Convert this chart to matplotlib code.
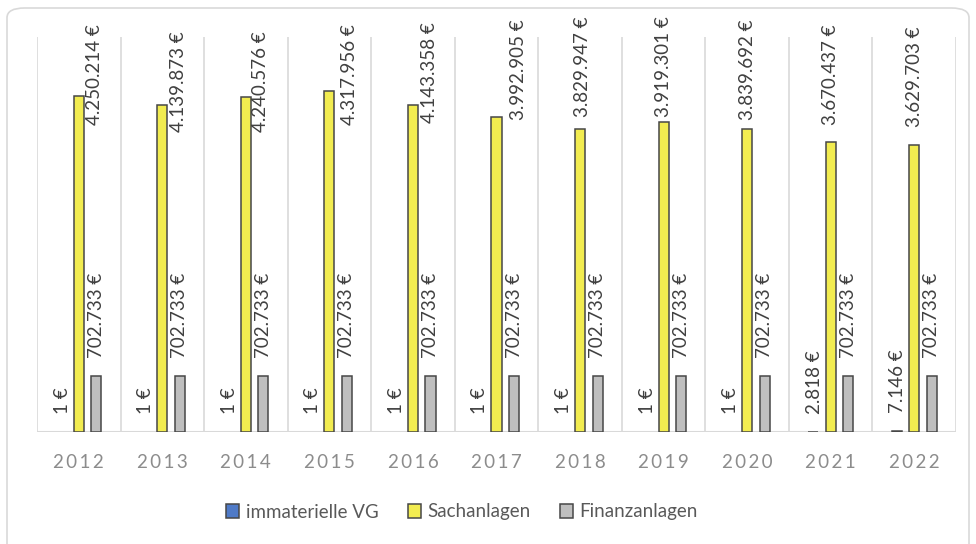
import matplotlib.pyplot as plt
import numpy as np
from matplotlib.patches import FancyBboxPatch, Patch

# === Data ===
years = ["2012", "2013", "2014", "2015", "2016", "2017", "2018", "2019", "2020", "2021", "2022"]
immaterielle = [1, 1, 1, 1, 1, 1, 1, 1, 1, 2818, 7146]
sachanlagen = [4250214, 4139873, 4240576, 4317956, 4143358, 3992905,
               3829947, 3919301, 3839692, 3670437, 3629703]
finanzanlagen = [702733] * 11

series_names = ["immaterielle VG", "Sachanlagen", "Finanzanlagen"]

# label tweaks for the Sachanlagen labels (pixels: right shift, bottom relative to bar top)
sach_dx = [16, 16, 15, 20, 17, 22, 2, 0, 0, 0, 0]
sach_dy = [-29, -27, -35, -34, -18, -3, 12, 5, 9, 17, 18]

# === Style ===
colors = ["#4f7ac7", "#f2ec50", "#bfbfbf"]
edge = "#474747"
label_col = "#404040"
font = ["Lato", "DejaVu Sans"]


def fmt(v):
    return f"{v:,}".replace(",", ".") + " €"


W, H = 976, 544
fig = plt.figure(figsize=(W / 100, H / 100), dpi=100)
fig.patch.set_facecolor("white")

# outer chart frame (bottom edge runs off the image)
frame = FancyBboxPatch((7 / W, -30 / H), 962 / W, (H - 8 + 30) / H,
                       boxstyle="round,pad=0,rounding_size=0.018",
                       transform=fig.transFigure, facecolor="none",
                       edgecolor="#d9d9d9", linewidth=1.2, clip_on=False)
fig.patches.append(frame)

left, right, top, base = 37, 956, 37, 432
ax = fig.add_axes([left / W, (H - base) / H, (right - left) / W, (base - top) / H])
ax.set_xlim(0, len(years))
ax.set_ylim(0, 5000000)

x = np.arange(len(years)) + 0.5
off = 0.21
bw = 0.12
groups = [immaterielle, sachanlagen, finanzanlagen]
for i, vals in enumerate(groups):
    # values of a single euro do not show at all
    edges = [edge if v > 1 else "none" for v in vals]
    ax.bar(x + (i - 1) * off, vals, width=bw, color=colors[i], edgecolor=edges,
           linewidth=1.1, zorder=3)

# vertical separators between categories
for b in range(len(years) + 1):
    ax.axvline(b, color="#d9d9d9", linewidth=1.2, zorder=1)
ax.axhline(0, color="#d9d9d9", linewidth=1.5, zorder=2)

for s in ax.spines.values():
    s.set_visible(False)
ax.set_yticks([])
ax.set_xticks(x)
ax.set_xticklabels(["\u2009".join(y) for y in years], fontsize=13.5, color="#8c8c8c",
                   family=font)
ax.tick_params(axis="x", length=0, pad=16)

# data labels
lab_kw = dict(rotation=90, ha="center", va="bottom", fontsize=13.5,
              color=label_col, family=font, textcoords="offset pixels",
              annotation_clip=False, zorder=4)
for j in range(len(years)):
    ax.annotate(fmt(immaterielle[j]), (x[j] - off, immaterielle[j]),
                xytext=(1, 18), **lab_kw)
    ax.annotate(fmt(sachanlagen[j]), (x[j], sachanlagen[j]),
                xytext=(sach_dx[j], sach_dy[j]), **lab_kw)
    ax.annotate(fmt(finanzanlagen[j]), (x[j] + off, finanzanlagen[j]),
                xytext=(0, 18), **lab_kw)

handles = [Patch(facecolor=colors[i], edgecolor=edge, linewidth=1.1,
                 label=series_names[i]) for i in range(3)]
fig.legend(handles=handles, loc="center", bbox_to_anchor=(462 / W, (H - 512) / H),
           ncol=3, frameon=False, labelcolor="#595959",
           handlelength=0.7, handleheight=0.7, handletextpad=0.35,
           columnspacing=1.55, prop={"family": font, "size": 13.5})

fig.savefig("out.png", dpi=100, facecolor="white")
